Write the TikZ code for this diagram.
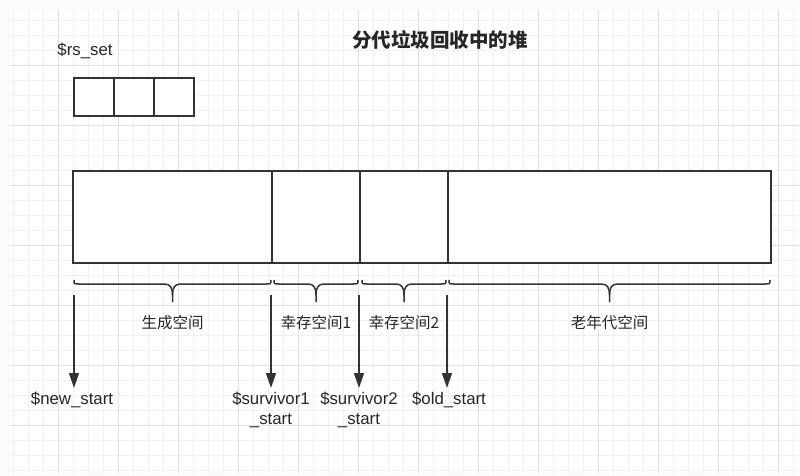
\documentclass[tikz,border=0pt]{standalone}
\usepackage{fontspec}
\setmainfont{Liberation Sans}
\newfontfamily\cjk{Noto Sans CJK SC}
\usetikzlibrary{arrows.meta,positioning}
\definecolor{InkGray}{RGB}{51,51,51}
\definecolor{TextGray}{RGB}{38,38,38}
\definecolor{GridMinor}{RGB}{240,240,240}
\definecolor{GridMajor}{RGB}{224,224,224}
\definecolor{PaperPink}{RGB}{252,250,252}

\begin{document}
\begin{tikzpicture}[x=1pt,y=-1pt,>={Triangle[length=15pt,width=10pt]},
    rscell/.style={draw=InkGray,line width=1.5pt,fill=white,inner sep=0pt,outer sep=0pt,
      minimum width=40pt,minimum height=38pt},
    heappart/.style={draw=InkGray,line width=1.5pt,fill=white,inner sep=0pt,outer sep=0pt,
      minimum height=92pt},
    cnlabel/.style={text=TextGray,font=\cjk\fontsize{15.5}{18}\selectfont},
    ptrlabel/.style={text=TextGray,font=\fontsize{16.8}{20}\selectfont,align=center,inner sep=0pt},
    ptr/.style={->,draw=InkGray,line width=1.5pt,shorten >=4pt},
    bracepath/.style={draw=InkGray,line width=1.5pt}]
  \useasboundingbox (0,0) rectangle (800,476);
  \fill[PaperPink] (0,0) rectangle (800,476);
  \fill[white] (10,10) rectangle (800,473);
  % grid paper
  \foreach \x in {13,28,...,800} \draw[GridMinor,line width=0.8pt] (\x,10) -- (\x,473);
  \foreach \y in {20,35,...,473} \draw[GridMinor,line width=0.8pt] (10,\y) -- (800,\y);
  \foreach \x in {58,118,...,800} \draw[GridMajor,line width=0.8pt] (\x,10) -- (\x,473);
  \foreach \y in {65,125,...,473} \draw[GridMajor,line width=0.8pt] (10,\y) -- (800,\y);

  \node[font=\cjk\bfseries\fontsize{19.5}{22}\selectfont,text=TextGray] (title) at (440,40) {分代垃圾回收中的堆};

  % remembered set
  \node[ptrlabel] (rsname) at (85,51) {\$rs\_set};
  \node[rscell,anchor=north west] (rs1) at (74,78) {};
  \node[rscell,right=0pt of rs1] (rs2) {};
  \node[rscell,right=0pt of rs2] (rs3) {};

  % heap
  \node[heappart,anchor=north west,minimum width=199pt] (young) at (73,171) {};
  \node[heappart,right=0pt of young,minimum width=88pt] (surv1) {};
  \node[heappart,right=0pt of surv1,minimum width=88pt] (surv2) {};
  \node[heappart,right=0pt of surv2,minimum width=323pt] (old) {};

  % braces and space names
  \foreach \a/\b/\txt/\nm in {74/271/生成空间/younglbl,274/358/幸存空间1/surv1lbl,
      362/446/幸存空间2/surv2lbl,449/770/老年代空间/oldlbl}{
    \pgfmathsetmacro\m{(\a+\b)/2}
    \draw[bracepath] (\a,280) .. controls (\a,284) .. (\a+5,284) -- (\m-8,284)
      .. controls (\m-2,284) and (\m,288) .. (\m,295) -- (\m,302);
    \draw[bracepath] (\b,280) .. controls (\b,284) .. (\b-5,284) -- (\m+8,284)
      .. controls (\m+2,284) and (\m,288) .. (\m,295);
    \node[cnlabel] (\nm) at (\m,323) {\txt};
  }

  % start pointers
  \node[ptrlabel,anchor=north] (newstart) at (72,392) {\$new\_start};
  \node[ptrlabel,anchor=north] (surv1start) at (271,392) {\$survivor1\\\_start};
  \node[ptrlabel,anchor=north] (surv2start) at (359,392) {\$survivor2\\\_start};
  \node[ptrlabel,anchor=north] (oldstart) at (449,392) {\$old\_start};
  \draw[ptr] ([xshift=1pt,yshift=-32pt]young.south west) -- ([xshift=1pt]young.south west |- newstart.north);
  \draw[ptr] ([xshift=-1pt,yshift=-32pt]surv1.south west) -- ([xshift=-1pt]surv1.south west |- surv1start.north);
  \draw[ptr] ([xshift=-1pt,yshift=-32pt]surv2.south west) -- ([xshift=-1pt]surv2.south west |- surv2start.north);
  \draw[ptr] ([xshift=-1pt,yshift=-32pt]old.south west) -- ([xshift=-1pt]old.south west |- oldstart.north);
\end{tikzpicture}
\end{document}
